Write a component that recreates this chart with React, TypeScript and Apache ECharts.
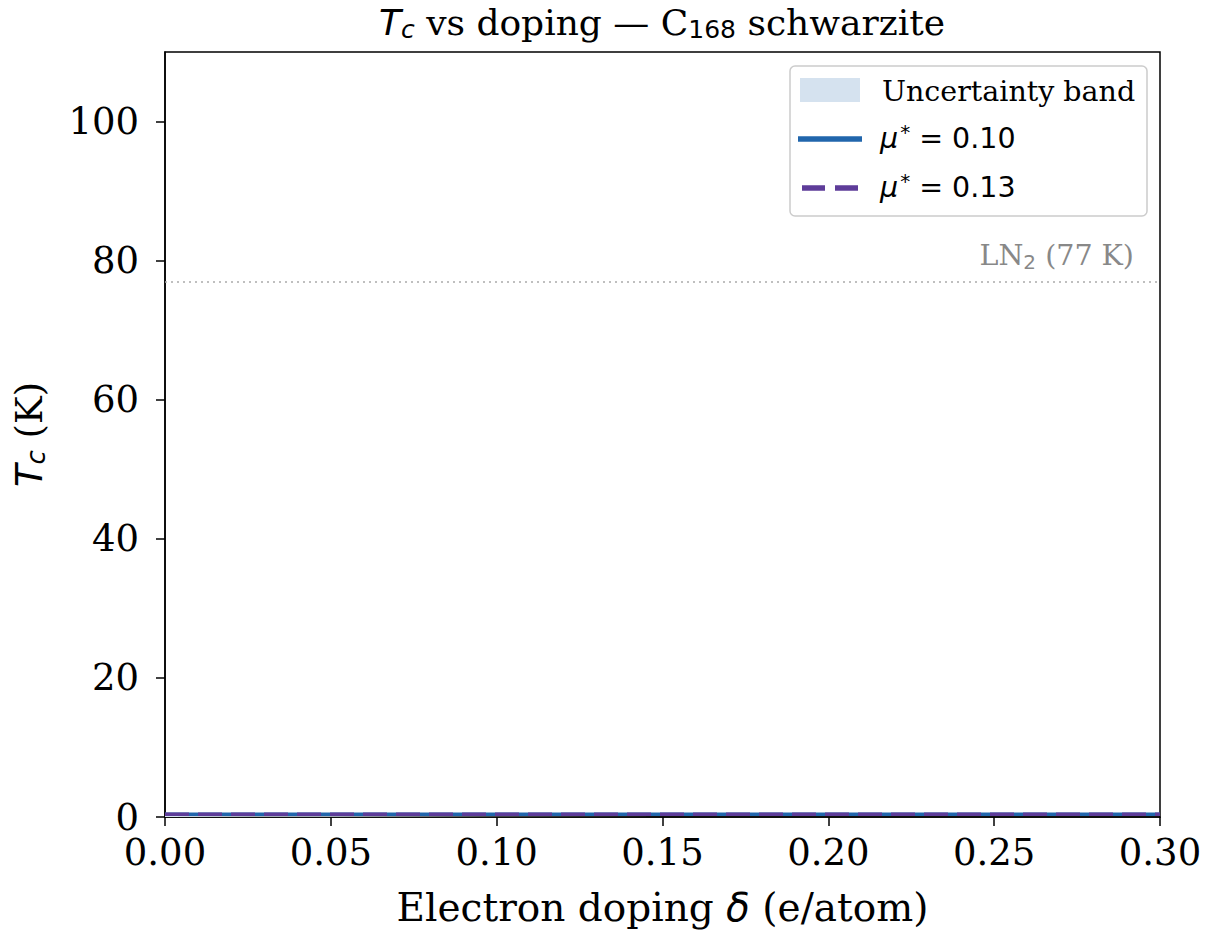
import React, { useEffect, useRef } from "react";
import * as echarts from "echarts";

const doping = [0.0, 0.05, 0.1, 0.15, 0.2, 0.25, 0.3];
const tcMu010 = [0.4, 0.4, 0.4, 0.4, 0.4, 0.4, 0.4];
const tcMu013 = [0.4, 0.4, 0.4, 0.4, 0.4, 0.4, 0.4];
const bandLow = [0.3, 0.3, 0.3, 0.3, 0.3, 0.3, 0.3];
const bandHigh = [0.5, 0.5, 0.5, 0.5, 0.5, 0.5, 0.5];
const xTicks = [0, 0.05, 0.1, 0.15, 0.2, 0.25, 0.3];
const yTicks = [0, 20, 40, 60, 80, 100];
const ln2 = 77;
const legendNames = ["Uncertainty band", "μ* = 0.10", "μ* = 0.13"];
const muValues = ["0.10", "0.13"];

const BLUE = "#2166ac";
const PURPLE = "#5e3c99";
const BAND = "#d5e2ef";
const SERIF = "DejaVu Serif";
const SANS = "DejaVu Sans";
const FS = 37;
const NFS = 39;

export default function App() {
  const ref = useRef<HTMLDivElement>(null);
  useEffect(() => {
    document.body.style.margin = "0";
    const chart = echarts.init(ref.current!, null, { renderer: "svg" });
    const pairs = (ys: number[]) => doping.map((x, i) => [x, ys[i]]);
    const lx = 790, ly = 66, lw = 357, lh = 150;
    const muRich = {
      mu: { fontFamily: SANS, fontStyle: "italic", fontSize: 28.5, color: "#000" },
      st: { fontFamily: SANS, fontSize: 20, color: "#000", verticalAlign: "top", padding: [0, 0, 12, 2] },
      n: { fontFamily: SANS, fontSize: 28.5, color: "#000" },
    };
    chart.setOption({
      animation: false,
      backgroundColor: "#fff",
      title: {
        text: "{it|T}{sub|c}{n| vs doping — C}{sub2|168}{n| schwarzite}",
        left: 657,
        textAlign: "center",
        top: -2,
        textStyle: {
          fontWeight: "normal",
          rich: {
            it: { fontFamily: SANS, fontStyle: "italic", fontSize: 36, color: "#000" },
            sub: { fontFamily: SANS, fontStyle: "italic", fontSize: 25, color: "#000", padding: [14, 0, 0, 0] },
            sub2: { fontFamily: SANS, fontSize: 25, color: "#000", padding: [14, 0, 0, 0] },
            n: { fontFamily: SERIF, fontSize: 36, color: "#000" },
          },
        },
      },
      grid: { left: 165, right: 56, top: 52, bottom: 119, show: true, borderColor: "#000", borderWidth: 1.5, backgroundColor: "transparent" },
      xAxis: {
        type: "value",
        min: 0,
        max: 0.3,
        interval: 0.05,
        name: "Electron doping {it|δ} (e/atom)",
        nameLocation: "middle",
        nameGap: 71,
        nameTextStyle: {
          fontFamily: SERIF, fontSize: NFS, color: "#000",
          rich: {
            it: { fontFamily: SANS, fontStyle: "italic", fontSize: NFS, color: "#000" },
          },
        },
        axisLine: { show: true, lineStyle: { color: "#000", width: 1.5 } },
        axisTick: { show: true, inside: false, length: 9, lineStyle: { color: "#000", width: 1.5 }, customValues: xTicks },
        axisLabel: { fontFamily: SERIF, fontSize: FS, lineHeight: 28, color: "#000", margin: 21, customValues: xTicks, formatter: (v: number) => v.toFixed(2) },
        splitLine: { show: false },
      },
      yAxis: {
        type: "value",
        min: 0,
        max: 110,
        interval: 20,
        name: "{it|T}{sub|c}{n| (K)}",
        nameLocation: "middle",
        nameGap: 116,
        nameRotate: 90,
        nameTextStyle: {
          rich: {
            it: { fontFamily: SANS, fontStyle: "italic", fontSize: FS, color: "#000" },
            sub: { fontFamily: SANS, fontStyle: "italic", fontSize: 26, color: "#000", padding: [14, 0, 0, 0] },
            n: { fontFamily: SERIF, fontSize: FS, color: "#000" },
          },
        },
        axisLine: { show: true, lineStyle: { color: "#000", width: 1.5 } },
        axisTick: { show: true, inside: false, length: 9, lineStyle: { color: "#000", width: 1.5 }, customValues: yTicks },
        axisLabel: { fontFamily: SERIF, fontSize: FS, lineHeight: 28, color: "#000", margin: 26, customValues: yTicks },
        splitLine: { show: false },
      },
      series: [
        {
          name: "bandBase",
          type: "line",
          data: pairs(bandLow),
          stack: "band",
          symbol: "none",
          lineStyle: { width: 0, opacity: 0 },
          silent: true,
        },
        {
          name: legendNames[0],
          type: "line",
          data: doping.map((x, i) => [x, bandHigh[i] - bandLow[i]]),
          stack: "band",
          symbol: "none",
          lineStyle: { width: 0, opacity: 0 },
          areaStyle: { color: BAND, opacity: 1 },
          silent: true,
        },
        {
          name: "ln2",
          type: "line",
          data: [],
          markLine: {
            silent: true,
            symbol: "none",
            lineStyle: { type: [2, 4], color: "#aaaaaa", width: 1.5 },
            label: {
              show: true,
              position: "insideEndTop",
              formatter: "{n|LN}{s|2}{n| (77 K)}",
              distance: [26, 10],
              rich: {
                n: { fontFamily: SERIF, fontSize: 28.5, color: "#888888" },
                s: { fontFamily: SANS, fontSize: 20, color: "#888888", padding: [12, 0, 0, 0] },
              },
            },
            data: [{ yAxis: ln2 }],
          },
        },
        {
          name: legendNames[1],
          type: "line",
          data: pairs(tcMu010),
          symbol: "none",
          lineStyle: { color: BLUE, width: 3.5 },
          z: 3,
        },
        {
          name: legendNames[2],
          type: "line",
          data: pairs(tcMu013),
          symbol: "none",
          lineStyle: { color: PURPLE, width: 3.5, type: [24, 9] },
          z: 4,
        },
      ],
      graphic: [
        {
          type: "rect",
          shape: { x: lx, y: ly, width: lw, height: lh, r: 5 },
          style: { fill: "rgba(255,255,255,0.8)", stroke: "#cccccc", lineWidth: 1.5 },
          z: 10,
        },
        { type: "rect", shape: { x: 800, y: 78, width: 60, height: 24 }, style: { fill: BAND }, z: 11 },
        { type: "line", shape: { x1: 798, y1: 139, x2: 862, y2: 139 }, style: { stroke: BLUE, lineWidth: 5.5 }, z: 11 },
        { type: "line", shape: { x1: 802, y1: 188, x2: 860, y2: 188 }, style: { stroke: PURPLE, lineWidth: 5.5, lineDash: [23, 10] }, z: 11 },
        {
          type: "text", x: 882, y: 91, z: 11,
          style: { text: legendNames[0], fontFamily: SERIF, fontSize: 28.5, fill: "#000", verticalAlign: "middle" },
        },
        {
          type: "text", x: 880, y: 138, z: 11,
          style: { text: "{mu|μ}{st|*}{n| = " + muValues[0] + "}", rich: muRich, verticalAlign: "middle" },
        },
        {
          type: "text", x: 880, y: 187, z: 11,
          style: { text: "{mu|μ}{st|*}{n| = " + muValues[1] + "}", rich: muRich, verticalAlign: "middle" },
        },
      ],
    });
    return () => chart.dispose();
  }, []);
  return <div ref={ref} style={{ width: 1216, height: 936 }} />;
}
